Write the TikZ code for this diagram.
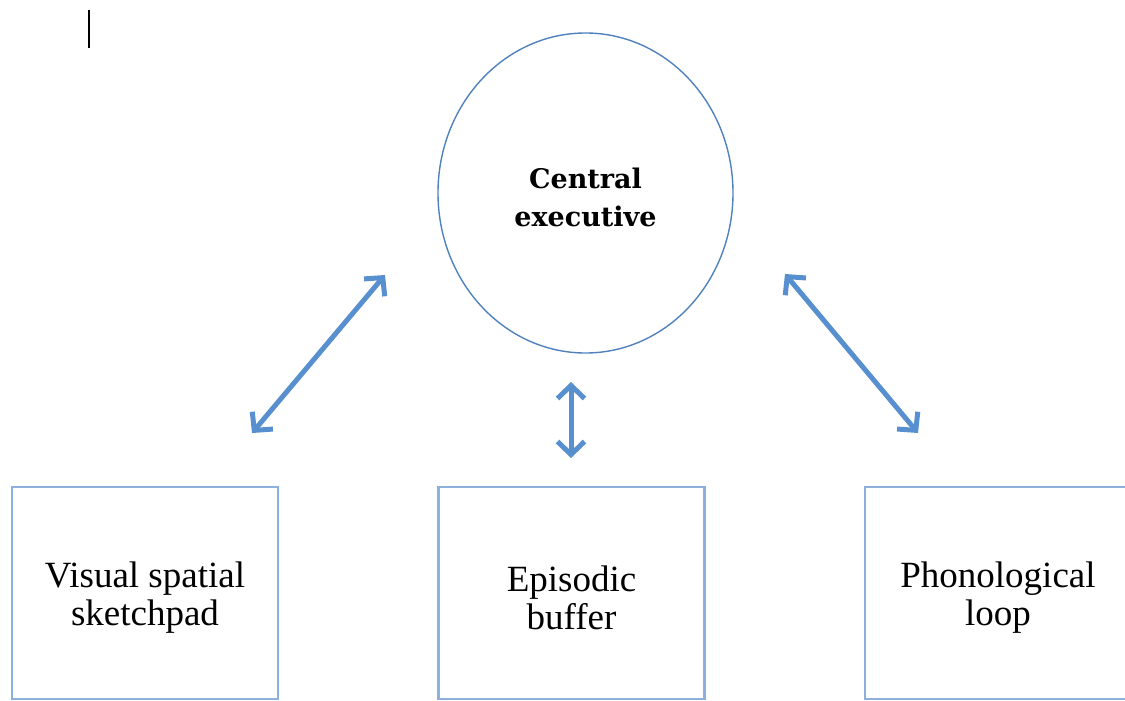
\documentclass[tikz,border=0pt]{standalone}
\usepackage{fontspec}
\setmainfont{Liberation Serif}
\newfontfamily\slabfont{DejaVu Serif}
\usetikzlibrary{arrows.meta,shapes.geometric}

\definecolor{arrowblue}{RGB}{88,143,207}
\definecolor{ringblue}{RGB}{79,129,189}
\definecolor{boxblue}{RGB}{141,176,221}

\begin{document}
\begin{tikzpicture}[x=1pt, y=-1pt,
  store/.style={draw=boxblue, line width=2.5pt, minimum width=266pt, minimum height=212pt,
    align=center, font=\fontsize{37}{37.5}\selectfont},
  exec/.style={ellipse, draw=ringblue, line width=1.4pt, minimum width=295pt, minimum height=320pt,
    align=center, font=\slabfont\bfseries\fontsize{27}{38}\selectfont},
  link/.style={draw=arrowblue, line width=5pt, {Straight Barb[length=13pt,width=27pt]}-{Straight Barb[length=13pt,width=27pt]}}]

\useasboundingbox (0,0) rectangle (1125,701);

% cursor mark
\draw[line width=2pt] (89,10) -- (89,48);

\node[exec] (ce) at (585.5,193) {\rule{0pt}{29pt}Central\\executive};

\node[store] (vs) at (145,593) {\rule{0pt}{35pt}Visual spatial\\sketchpad};
\node[store] (eb) at (571.5,593) {\rule{0pt}{35pt}Episodic\\buffer};
\node[store] (pl) at (998,593) {\rule{0pt}{35pt}Phonological\\loop};

% free arrow ends
\coordinate (vsa) at (252,433);
\coordinate (vsb) at (385,275);
\coordinate (eba) at (571,382);
\coordinate (ebb) at (571,458);
\coordinate (pla) at (785,274);
\coordinate (plb) at (918,433);

\draw[link] (vsa) -- (vsb);
\draw[link] (eba) -- (ebb);
\draw[link] (pla) -- (plb);

\end{tikzpicture}
\end{document}
